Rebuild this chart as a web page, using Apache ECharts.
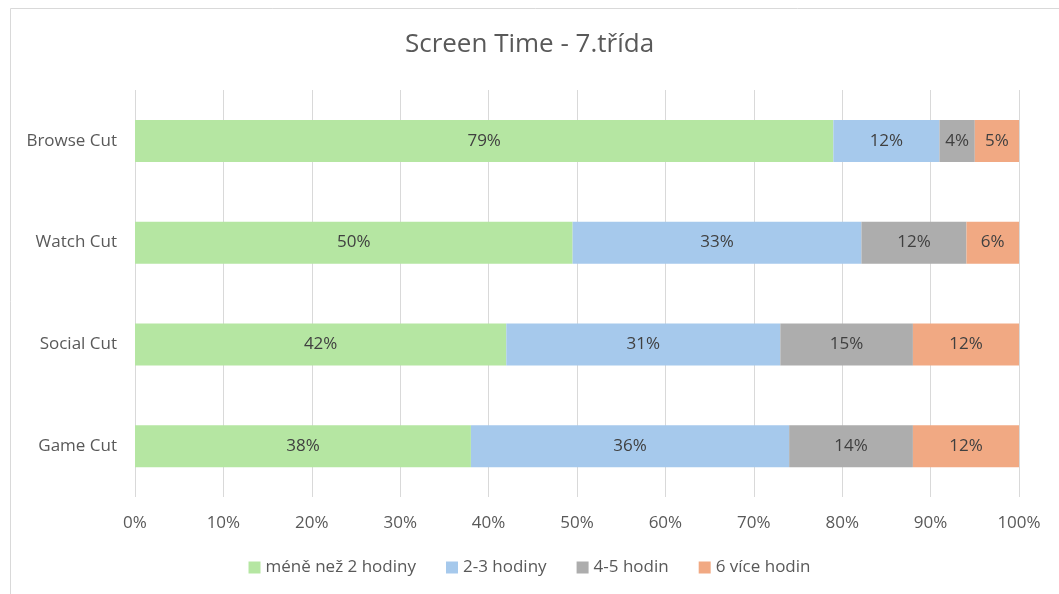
<!DOCTYPE html>
<html lang="cs">

<head>
  <meta charset="UTF-8">
  <title>Screen Time - 7.třída</title>
  <script src="https://cdn.jsdelivr.net/npm/echarts@6/dist/echarts.min.js"></script>
  <style>
    html, body { margin: 0; padding: 0; background: #fff; }
    #chart { width: 1059px; height: 594px; }
  </style>
</head>

<body>
  <div id="chart"></div>
</body>

</html>
<script>
  // kategorie odspodu nahoru
  const categories = ['Game Cut', 'Social Cut', 'Watch Cut', 'Browse Cut'];
  const seriesNames = ['méně než 2 hodiny', '2-3 hodiny', '4-5 hodin', '6 více hodin'];
  const colors = ['#b5e6a2', '#a6c9ec', '#adadad', '#f1a983'];

  // hodnoty v procentech (tak jak jsou v popiscích)
  const less2 = [38, 42, 50, 79];
  const h2to3 = [36, 31, 33, 12];
  const h4to5 = [14, 15, 12, 4];
  const over6 = [12, 12, 6, 5];

  const xTicks = [0, 10, 20, 30, 40, 50, 60, 70, 80, 90, 100];

  const rows = [less2, h2to3, h4to5, over6];
  // 100% skládaný graf - každý řádek normalizovat na součet
  const totals = categories.map((c, i) => rows.reduce((s, r) => s + r[i], 0));

  const txt = '#595959';
  const font = 'Open Sans';

  const chart = echarts.init(document.getElementById('chart'));

  chart.setOption({
    animation: false,
    textStyle: { fontFamily: font },
    graphic: [{
      type: 'rect',
      shape: { x: 10.5, y: 8.5, width: 1060, height: 600 },
      style: { fill: 'none', stroke: '#d9d9d9', lineWidth: 1 },
      silent: true
    }],
    title: {
      text: 'Screen Time - 7.třída',
      left: 'center',
      top: 27,
      textStyle: { color: txt, fontSize: 26, fontWeight: 'normal', fontFamily: font }
    },
    legend: {
      bottom: 13,
      left: 'center',
      itemWidth: 12,
      itemHeight: 12,
      itemGap: 30,
      icon: 'rect',
      textStyle: { color: txt, fontSize: 17, fontFamily: font },
      data: seriesNames
    },
    grid: { left: 135, right: 40, top: 90, bottom: 97 },
    xAxis: {
      type: 'value',
      min: 0,
      max: 100,
      interval: 10,
      axisLine: { show: false },
      axisTick: { show: false },
      axisLabel: { color: txt, fontSize: 17, margin: 18, formatter: v => xTicks.includes(v) ? v + '%' : '' },
      splitLine: { lineStyle: { color: '#d9d9d9' } }
    },
    yAxis: {
      type: 'category',
      data: categories,
      axisLine: { show: false },
      axisTick: { show: false },
      axisLabel: { color: txt, fontSize: 17, margin: 18 }
    },
    series: rows.map((row, k) => ({
      name: seriesNames[k],
      type: 'bar',
      stack: 'total',
      barWidth: 42,
      itemStyle: { color: colors[k] },
      label: {
        show: true,
        color: '#404040',
        fontSize: 17,
        formatter: p => row[p.dataIndex] + '%'
      },
      data: row.map((v, i) => v / totals[i] * 100)
    }))
  });
</script>
